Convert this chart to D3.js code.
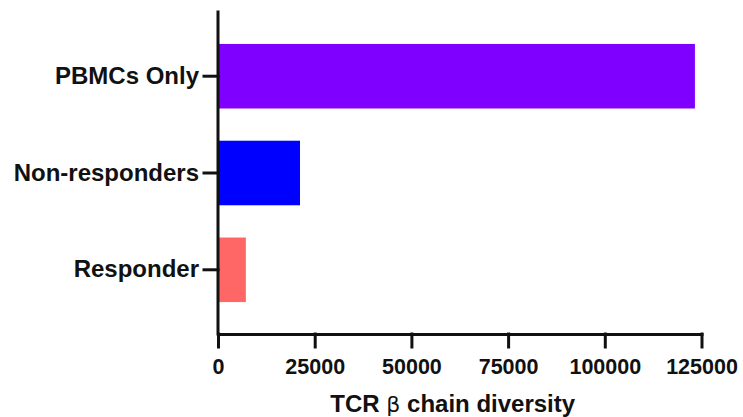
<!DOCTYPE html>
<html>
<head>
<meta charset="utf-8">
<script src="https://cdn.jsdelivr.net/npm/d3@7"></script>
<style>
  html, body { margin: 0; padding: 0; background: #fff; }
  svg { display: block; }
  text { font-family: "Liberation Sans", Arial, Helvetica, sans-serif; fill: #111; }
</style>
</head>
<body>
<svg id="chart" width="743" height="417"></svg>
<script>
// Groups, top to bottom
const groups = ["PBMCs Only", "Non-responders", "Responder"];
// TCR beta chain diversity per group
const diversity = [123300, 21200, 7200];
const barColors = ["#8000FF", "#0000FF", "#FF6666"];
// X axis ticks
const xTicks = [0, 25000, 50000, 75000, 100000, 125000];

const svg = d3.select("#chart");
const plotLeft = 218, plotRight = 701.5, plotTop = 12, plotBottom = 334;

const x = d3.scaleLinear().domain([0, 125000]).range([plotLeft, plotRight]);
const y = d3.scaleBand().domain(groups).range([plotTop, plotBottom])
  .paddingInner(0.333).paddingOuter(0.33);

const rows = groups.map((g, i) => ({ g, v: diversity[i], c: barColors[i] }));

// Bars
svg.append("g").selectAll("rect").data(rows).join("rect")
  .attr("x", x(0))
  .attr("y", d => y(d.g))
  .attr("width", d => x(d.v) - x(0))
  .attr("height", y.bandwidth())
  .attr("fill", d => d.c);

// Y axis
const yAxis = svg.append("g")
  .attr("transform", `translate(${plotLeft},0)`)
  .call(d3.axisLeft(y).tickSize(14).tickPadding(5).tickSizeOuter(0));
yAxis.select(".domain").attr("d", `M0,${plotTop}V${plotBottom}`);

// X axis
const xAxis = svg.append("g")
  .attr("transform", `translate(0,${plotBottom})`)
  .call(d3.axisBottom(x).tickValues(xTicks).tickFormat(d3.format("d"))
    .tickSize(13).tickPadding(12).tickSizeOuter(0));

[yAxis, xAxis].forEach(a => {
  a.selectAll(".domain, .tick line")
    .attr("stroke", "#111").attr("stroke-width", 3).attr("stroke-linecap", "square");
});
yAxis.selectAll(".tick text")
  .attr("font-size", 24).attr("font-weight", "bold").attr("fill", "#111")
  .attr("font-family", "'Liberation Sans', Arial, sans-serif");
xAxis.selectAll(".tick text")
  .attr("font-size", 21.5).attr("font-weight", "bold").attr("fill", "#111")
  .attr("font-family", "'Liberation Sans', Arial, sans-serif");

// X axis title
const title = svg.append("text")
  .attr("x", (x(0) + x(125000)) / 2 - 7)
  .attr("y", 411.5)
  .attr("text-anchor", "middle")
  .attr("font-size", 24)
  .attr("font-weight", "bold");
title.append("tspan").text("TCR ");
title.append("tspan").attr("font-weight", "normal").attr("font-family", "'DejaVu Sans', sans-serif").attr("font-size", 22).text("β");
title.append("tspan").text(" chain diversity");
</script>
</body>
</html>
